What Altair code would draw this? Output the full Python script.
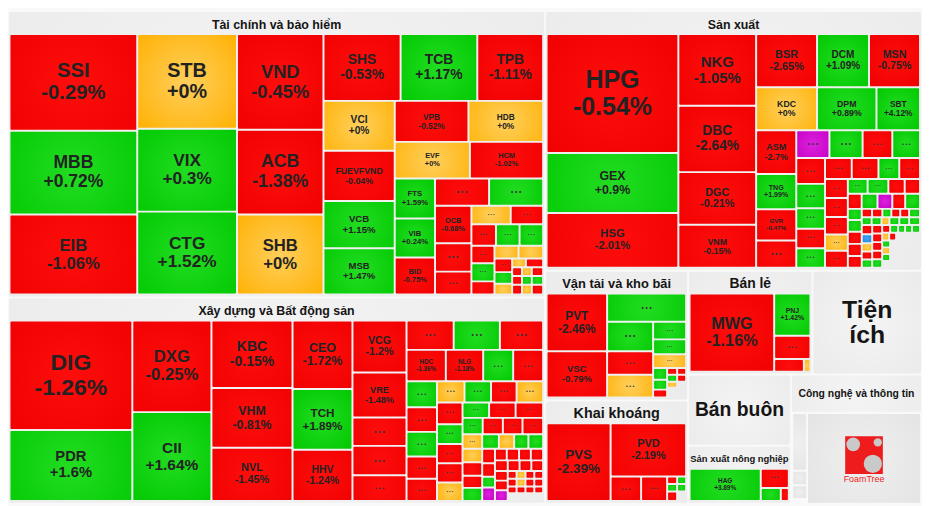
import altair as alt
import pandas as pd

U = "..."      # small stock whose name is not printed in the reference
FONT = "Liberation Sans"

# ---------------- sectors ----------------
SECTORS = ["Tài chính và bảo hiểm", "Xây dựng và Bất động sản", "Sản xuất",
           "Vận tải và kho bãi", "Khai khoáng", "Bán lẻ", "Tiện ích",
           "Bán buôn", "Sản xuất nông nghiệp", "Công nghệ và thông tin"]
SECTOR_WEIGHTS = [160398, 115585, 102011, 19352, 15423, 13472, 11875, 7629, 6218, 17689]
SECTOR_LAYOUT = "H(V2 V(L H(V2 V(H2 H(V2 L)))))"

# ---------------- stocks (ticker, % change, weight) ----------------
# unlabelled cells: only the sign / band of the change can be read (colour)
FIN_T = ["SSI", "MBB", "EIB", "STB", "VIX", "CTG", "VND", "ACB", "SHB", "SHS", "TCB", "TPB",
         "VCI", "FUEVFVND", "VCB", "MSB", "VPB", "HDB", "EVF", "HCM", "FTS", "VIB", "BID",
         U, U, "OCB", U, U] + [U] * 24
FIN_C = [-0.29, 0.72, -1.06, 0, 0.3, 1.52, -0.45, -1.38, 0, -0.53, 1.17, -1.11,
         0, -0.04, 1.15, 1.47, -0.52, 0, 0, -1.02, 1.59, 0.24, -0.75,
         -1, 1, -0.68, -1, -1, 0, -1, -1, 1, 1, -1, 1, -1, 0, 0, -1, 1, 0, 0, -1,
         -1, 0, -1, -1, 1, 1, -1, 0, -1]
FIN_W = [12870, 11180, 10660, 9846, 8628, 8628, 8624, 7656, 7216, 5377, 5343, 4590,
         3698, 3734, 3516, 3444, 3150, 3192, 2869, 2794, 1681, 1640, 1558,
         1540, 1540, 1425, 1073, 870, 760, 627, 550, 528, 528, 423, 435, 317, 318, 325,
         252, 216, 198, 126, 158, 90, 90, 104, 90, 90, 104, 100, 100, 115]
FIN_L = "H(V3 V3 V3 V(H3 H(V4 V(H2 H2 H(V3 V(H2 H(V3 V(H2 H3 H(V3 V(H2 H(V3 V(H2 H3 H3 H3"

CON_T = ["DIG", "PDR", "DXG", "CII", "KBC", "VHM", "NVL", "CEO", "TCH", "HHV", "VCG", "VRE", U, U, U,
         U, U, U, "HDC", "NLG", U, U] + [U] * 57 + [""]
CON_C = [-1.26, 1.6, -0.25, 1.64, -0.15, -0.81, -1.45, -1.72, 1.89, -1.24, -1.2, -1.48, -1, -1, -1,
         -1, 1, -1, -1.36, -1.18, 1, -1,
         1, -1, 1, -1, -1, 0, 1, -1, 0, -1, 1, -1, -1, 0, 1, -1, -1,
         1, -1, -1, -1, 0, 1, 0, 1, 1, 0, -1, -1, 1, -1, -1, 1, 6.9,
         -1, -1, -1, -1, -1, -1, -1, -1, -1, -1, 6.9,
         -1, 0, -1, -1, -1, 0, -1, -1, -1, -1, -1, -1, None]
CON_W = [14188, 9188, 7648, 7406, 5775, 5115, 4538, 4331, 3843, 3233, 2970, 2558, 1623, 1678, 1458,
         1464, 1434, 1342, 1300, 1235, 991, 991,
         837, 791, 791, 713, 713, 616, 594, 572, 594, 585, 533, 520, 520, 494, 432, 432, 448,
         349, 349, 340, 357, 300, 255, 233, 218, 225, 280, 280, 250, 270, 195, 182, 143, 182,
         144, 150, 144, 150, 143, 132, 132, 132, 130, 130, 143,
         72, 72, 72, 72, 72, 72, 72, 72, 63, 63, 63, 63, 288]
CON_L = "H(V2 V2 V3 V3 V5 V(H3 H4 H(V5 V(H4 H(V5 V(H3 H4 H5 H(V4 H(V4 V(H4 H4 H(V3 V(H4 H4 H4 L"

MAN_T = ["HPG", "GEX", "HSG", "NKG", "DBC", "DGC", "VNM", "BSR", "DCM", "MSN", "KDC", "DPM", "SBT",
         "ASM", "TNG", "GVR", U] + [U] * 59 + [U, U, "", U, U, U, "", ""]
MAN_C = [-0.54, 0.9, -2.01, -1.05, -2.64, -0.21, -0.15, -2.65, 1.09, -0.75, 0, 0.89, 4.12,
         -2.7, 1.99, -0.47, -1,
         6.9, 1, -1, 1, -1, 1, 1, -1, 1, -1, -1, 1, -1, -1, -1, -1, 0, -1,
         1, 1, -1, -1, -1, 1, 6.9, -1, 1, 1, 1, -1, -1, -1,
         -1, -1, 1, -1, -1, 1, 1, 1, 0, 1, 1, 1,
         -1, -6.9, 0, -1, 1, -1, -1, -1, -1, 1, -1, 1, 1, 1, 1,
         0, -1, None, 1, 0, 1, None, None]
MAN_W = [16226, 8180, 7448, 5770, 5338, 4239, 3454, 3352, 2861, 2807, 2706, 2640, 1936,
         1823, 1458, 1296, 1134,
         955, 955, 855, 798, 769, 725, 609, 580, 580, 581, 581, 452, 452, 449, 449, 414, 380, 403,
         300, 315, 248, 233, 217, 248, 233, 202, 233, 161, 168, 175, 175, 168,
         89, 89, 77, 77, 77, 94, 80, 80, 64, 80, 80, 88,
         99, 99, 88, 88, 88, 88, 88, 88, 88, 88, 64, 64, 56, 56, 64,
         56, 56, 192, 56, 56, 56, 56, 840]
MAN_L = "H(V3 V4 V(H3 H3 H(V4 V(H4 H(V5 V(H4 H(V5 V(H4 H5 H(V5 V(H6 H6 H(V5 V5 V(H5 H3 H(V4 L"

TRA_T = ["PVT", "VSC"] + [U] * 15 + ["", ""]
TRA_C = [-2.46, -0.79, 1, 1, -1, 0, 1, 1, 0, 1, 1, -1, -1, -1, 1, -1, 0, None, None]
TRA_W = [3539, 2844, 2252, 1380, 1104, 1058, 594, 495, 462, 168, 140, 112, 70, 63, 70, 63, 60, 54, 190]
TRA_L = "H(V2 V(L H(V3 V(L L L H(V3 V(H2 H2 H2 L"

KHAI_T = ["PVS", "PVD"] + [U] * 7 + [""]
KHAI_C = [-2.39, -2.19, -1, -1, -1, 1, 1, 1, -1, None]
KHAI_W = [5280, 4266, 793, 676, 80, 72, 80, 72, 100, 90]
KHAI_L = "H(L V(L H(L L V(H2 H2 H2"

BANLE_T = ["MWG", "PNJ", U, U, U]
BANLE_C = [-1.16, 1.42, -1, -1, 0]
BANLE_W = [6762, 1566, 864, 384, 85]
BANLE_L = "H(L V(L L H2"

SXNN_T = ["HAG", U, U, U]
SXNN_C = [3.89, -1, 1, -1]
SXNN_W = [2485, 588, 280, 112]
SXNN_L = "H(L V(L H2"

CNTT_T = [U, U, U, "", "FoamTree"]
CNTT_C = [None, None, None, None, None]
CNTT_W = [885, 225, 210, 75, 10788]
CNTT_L = "H(V4 L"

STOCKS = {0: (FIN_T, FIN_C, FIN_W, FIN_L), 1: (CON_T, CON_C, CON_W, CON_L),
          2: (MAN_T, MAN_C, MAN_W, MAN_L), 3: (TRA_T, TRA_C, TRA_W, TRA_L),
          4: (KHAI_T, KHAI_C, KHAI_W, KHAI_L), 5: (BANLE_T, BANLE_C, BANLE_W, BANLE_L),
          8: (SXNN_T, SXNN_C, SXNN_W, SXNN_L), 9: (CNTT_T, CNTT_C, CNTT_W, CNTT_L)}

# ---------------- styles ----------------
TITLE_SIZE = [12.5, 12.5, 12.5, 13, 14.5, 14, 25, 19.5, 9.5, 10.5]
KIND = ["cells", "cells", "cells", "cells", "cells", "cells", "label", "label", "cells", "boxed"]


# ---------------- slice treemap layout ----------------
# "H(" children side by side, "V(" children stacked, "H3"/"V3" = 3 leaves,
# "L" = one leaf; unclosed groups are closed at the end of the string.
def parse(s):
    toks = s.replace("(", " ( ").replace(")", " ) ").split()
    pos = [0]

    def node():
        t = toks[pos[0]]
        pos[0] += 1
        if t == "L":
            return ("L",)
        if len(t) > 1:
            return (t[0], [("L",)] * int(t[1:]))
        assert toks[pos[0]] == "("
        pos[0] += 1
        kids = []
        while pos[0] < len(toks) and toks[pos[0]] != ")":
            kids.append(node())
        if pos[0] < len(toks):
            pos[0] += 1
        return (t, kids)

    n = node()
    assert all(t == ")" for t in toks[pos[0]:]), s
    return n


def index_tree(n, counter):
    if n[0] == "L":
        i = counter[0]
        counter[0] += 1
        return ("L", i)
    return (n[0], [index_tree(k, counter) for k in n[1]])


def weight(n, w):
    if n[0] == "L":
        return w[n[1]]
    return sum(weight(k, w) for k in n[1])


def place(n, w, x0, y0, x1, y1, out):
    if n[0] == "L":
        out[n[1]] = (x0, y0, x1, y1)
        return
    tot = weight(n, w)
    p = x0 if n[0] == "H" else y0
    for k in n[1]:
        f = weight(k, w) / tot
        if n[0] == "H":
            q = p + (x1 - x0) * f
            place(k, w, p, y0, q, y1, out)
        else:
            q = p + (y1 - y0) * f
            place(k, w, x0, p, x1, q, out)
        p = q


EM = {"A": .722, "B": .722, "C": .722, "D": .722, "E": .667, "F": .611, "G": .778, "H": .722,
      "I": .278, "J": .556, "K": .722, "L": .611, "M": .833, "N": .722, "O": .778, "P": .667,
      "Q": .778, "R": .722, "S": .667, "T": .611, "U": .722, "V": .667, "W": .944, "X": .667,
      "Y": .667, "Z": .611, ".": .278, "-": .333, "+": .584, "%": .889}


def em(s):
    return sum(EM.get(ch, .556) for ch in s)


sector_tree = index_tree(parse(SECTOR_LAYOUT), [0])
sec_rects = {}
place(sector_tree, SECTOR_WEIGHTS, 0, 1, 930, 506, sec_rects)

panels, titles, cells, labels, dots, logos = [], [], [], [], [], []
for i, name in enumerate(SECTORS):
    x0, y0, x1, y1 = sec_rects[i]
    kind, ts = KIND[i], TITLE_SIZE[i]
    pcx = (x0 + x1) / 2
    if kind == "boxed":
        band = 39.5
        panels.append(dict(x=x0 + 1, x2=x1 - 1, y=y0 + 1, y2=y0 + band - 1.5))
        titles.append(dict(x=pcx, y=y0 + band / 2, text=name, size=ts))
    else:
        band = 23.5
        panels.append(dict(x=x0 + 1, x2=x1 - 1, y=y0 + 1, y2=y1 - 1))
        if kind == "label":
            lines = [name] if len(name) * 0.55 * ts < (x1 - x0) * 0.9 else name.split(" ")
            pcy = (y0 + y1) / 2
            for k, ln in enumerate(lines):
                titles.append(dict(x=pcx, y=pcy + (k - (len(lines) - 1) / 2) * 1.0 * ts,
                                   text=ln, size=ts))
        else:
            titles.append(dict(x=pcx, y=y0 + 14, text=name, size=ts))
    if i not in STOCKS:
        continue
    T, C, W, L = STOCKS[i]
    assert len(T) == len(C) == len(W), (name, len(T), len(C), len(W))
    tree = index_tree(parse(L), [0])
    rects = {}
    if kind == "boxed":
        place(tree, W, x0 + 1.5, y0 + band, x1 - 1, y1, rects)
    else:
        place(tree, W, x0 + 1.5, y0 + band, x1 - 2, y1 - 3, rects)
    assert len(rects) == len(T), (name, len(rects), len(T))
    for j, (t, c) in enumerate(zip(T, C)):
        a0, b0, a1, b1 = rects[j]
        if t == "":
            continue
        if c is None:
            cat = "grey"
        elif c >= 6.9:
            cat = "p"
        elif c <= -6.9:
            cat = "b"
        elif c > 0:
            cat = "g"
        elif c < 0:
            cat = "r"
        else:
            cat = "o"
        cells.append(dict(x=a0 + 1, x2=a1 - 1, y=b0 + 1, y2=b1 - 1, cat=cat))
        dw, dh = a1 - a0 - 2, b1 - b0 - 2
        cx, cy = (a0 + a1) / 2, (b0 + b1) / 2
        if t == "FoamTree":
            logos.append(dict(cx=cx, cy=cy, ly=cy - 3.5, ty=cy + 21.5, text=t))
        elif t == U:
            fsd = min(6.5, 0.25 * dh, 0.2 * dw)
            if fsd >= 3:
                dots.append(dict(cx=cx, cy=cy, fs=fsd))
        else:
            ct = f"{c:+g}%"
            fs = min(0.21 * dh, 0.68 * dw / max(em(t), em(ct)))
            labels.append(dict(cx=cx, yt=cy - 0.55 * fs, yc=cy + 0.55 * fs,
                               ticker=t, chg=ct, fs=fs))

panels_df = pd.DataFrame(panels)
titles_df = pd.DataFrame(titles)
cells_df = pd.DataFrame(cells)
labels_df = pd.DataFrame(labels)
dots_df = pd.DataFrame(dots)
logos_df = pd.DataFrame(logos)
logo_pts = pd.DataFrame(
    [dict(x=r.cx - 11, y=r.ly - 11, s=190) for r in logos_df.itertuples()] +
    [dict(x=r.cx + 9, y=r.ly + 9, s=340) for r in logos_df.itertuples()] +
    [dict(x=r.cx + 14, y=r.ly - 13, s=70) for r in logos_df.itertuples()])

# ---------------- chart ----------------
xs = alt.Scale(domain=[0, 930], nice=False, zero=False)
ys = alt.Scale(domain=[0, 506], nice=False, zero=False, reverse=True)


def grad(c0, c1, r=0.72):
    return {"gradient": "radial", "x1": 0.5, "y1": 0.5, "r1": 0,
            "x2": 0.5, "y2": 0.5, "r2": r,
            "stops": [{"offset": 0, "color": c0}, {"offset": 1, "color": c1}]}


def rects_layer(df, fill, **kw):
    return alt.Chart(df).mark_rect(fill=fill, **kw).encode(
        x=alt.X("x:Q", scale=xs, axis=None), x2="x2:Q",
        y=alt.Y("y:Q", scale=ys, axis=None), y2="y2:Q")


FILLS = {"r": grad("#ff0d0d", "#f00000"), "g": grad("#22dc22", "#00c800"),
         "o": grad("#ffcf5c", "#ffb000"), "p": grad("#dd22dd", "#c400c4"),
         "b": grad("#44a4f2", "#1a88e0"), "grey": grad("#efefef", "#e3e3e3")}

layers = [rects_layer(panels_df, grad("#f4f4f4", "#e9e9e9", 0.8), cornerRadius=2)]
for cat, fill in FILLS.items():
    if (cells_df["cat"] == cat).any():
        layers.append(rects_layer(cells_df, fill, cornerRadius=1)
                      .transform_filter(alt.datum.cat == cat))


def text_layer(df, xf, yf, tf, color="#222", weight="bold", size_field="fs"):
    return alt.Chart(df).mark_text(font=FONT, fontWeight=weight, color=color,
                                   baseline="middle", align="center").encode(
        x=alt.X(f"{xf}:Q", scale=xs, axis=None),
        y=alt.Y(f"{yf}:Q", scale=ys, axis=None),
        text=alt.Text(f"{tf}:N"),
        size=alt.Size(f"{size_field}:Q", scale=None))


layers += [
    text_layer(labels_df, "cx", "yt", "ticker"),
    text_layer(labels_df, "cx", "yc", "chg"),
    alt.Chart(dots_df).mark_text(font=FONT, fontWeight="bold", color="#333",
                                 baseline="middle", align="center", text="• • •").encode(
        x=alt.X("cx:Q", scale=xs, axis=None), y=alt.Y("cy:Q", scale=ys, axis=None),
        size=alt.Size("fs:Q", scale=None)),
    text_layer(titles_df, "x", "y", "text", color="#151515", size_field="size"),
    alt.Chart(logos_df).mark_square(size=1444, filled=True, color="#ee1c1c", opacity=1).encode(
        x=alt.X("cx:Q", scale=xs, axis=None), y=alt.Y("ly:Q", scale=ys, axis=None)),
    alt.Chart(logo_pts).mark_circle(color="#c9c9c9", opacity=1).encode(
        x=alt.X("x:Q", scale=xs, axis=None), y=alt.Y("y:Q", scale=ys, axis=None),
        size=alt.Size("s:Q", scale=None)),
    alt.Chart(logos_df).mark_text(font=FONT, fontSize=9, color="#ee1c1c",
                                  baseline="middle", align="center").encode(
        x=alt.X("cx:Q", scale=xs, axis=None), y=alt.Y("ty:Q", scale=ys, axis=None),
        text="text:N"),
]

chart = alt.layer(*layers).properties(
    width=922, height=498, padding=0,
    autosize=alt.AutoSizeParams(type="none"),
    background="#f9f9f9",
).configure_view(strokeWidth=0)

chart.save("out.html", embed_options={"renderer": "svg", "actions": False})
